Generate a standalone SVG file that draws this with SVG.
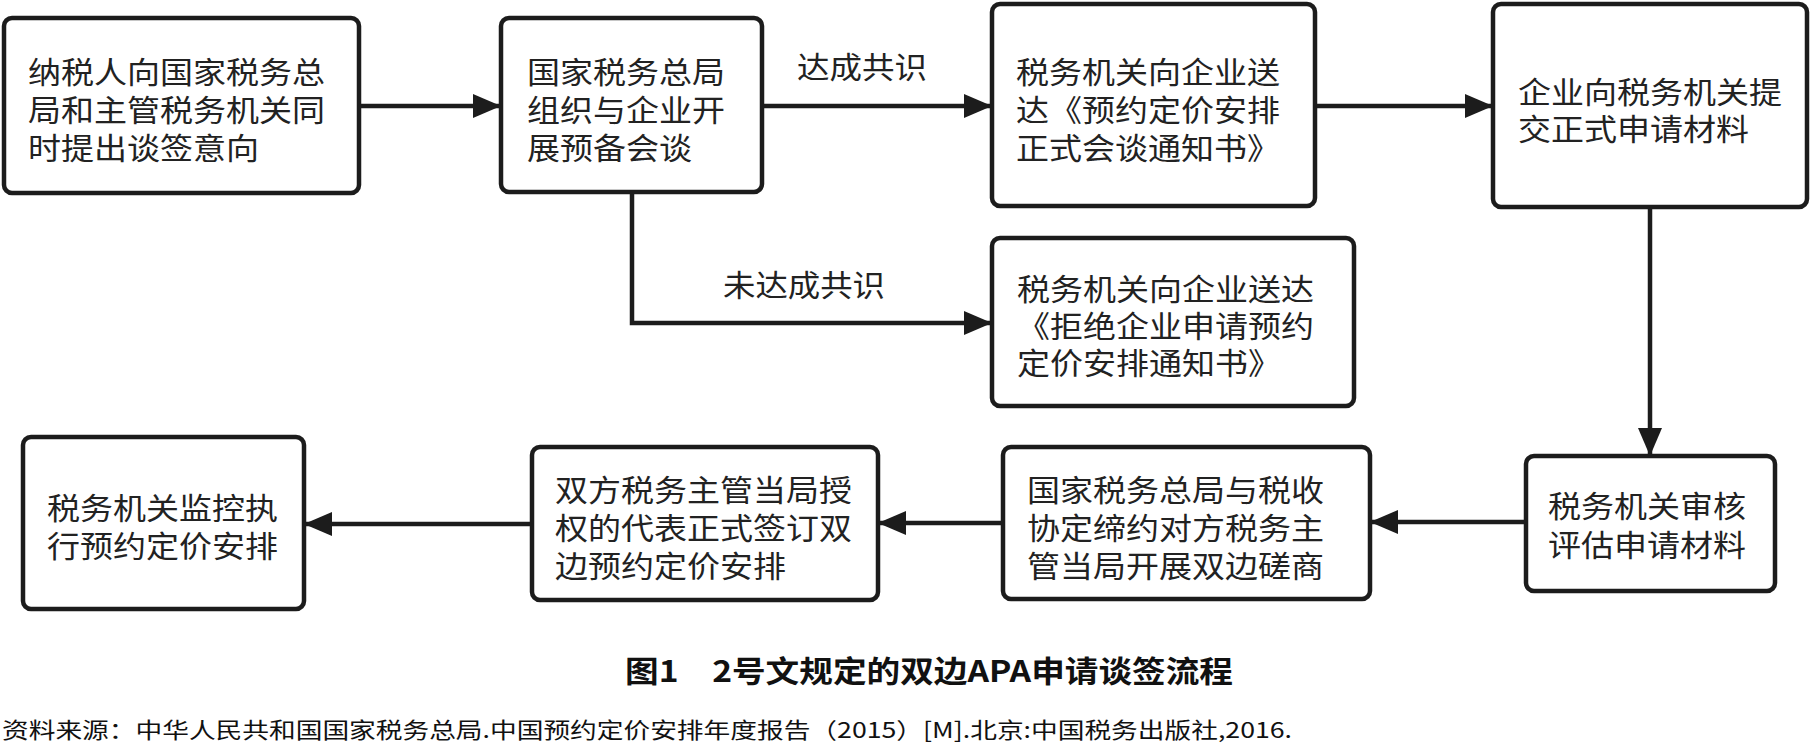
<svg xmlns="http://www.w3.org/2000/svg" width="1816" height="746" viewBox="0 0 1816 746">
<style>
  .box{fill:#ffffff;stroke:#1c1c1c;stroke-width:4.5;}
  .t{font-family:"Liberation Sans","Noto Sans CJK SC",sans-serif;font-size:30px;fill:#222222;dominant-baseline:central;}
  .lbl{font-family:"Liberation Sans","Noto Sans CJK SC",sans-serif;font-size:30px;fill:#222222;dominant-baseline:central;}
  .conn{fill:none;stroke:#1c1c1c;stroke-width:4.5;}
  .cap{font-family:"Noto Sans CJK SC","Noto Sans",sans-serif;font-size:30px;font-weight:bold;fill:#111111;dominant-baseline:central;}
  .src{font-family:"Noto Sans CJK SC","Noto Sans",sans-serif;font-size:22px;fill:#111111;dominant-baseline:central;}
</style>
<defs>
  <marker id="ah" markerUnits="userSpaceOnUse" markerWidth="30" markerHeight="26" refX="28" refY="12" orient="auto">
    <path d="M0,0 L28,12 L0,24 z" fill="#1c1c1c"/>
  </marker>
</defs>
<rect width="1816" height="746" fill="#ffffff"/>

<g id="connectors">
  <path class="conn" d="M359,106 H501" marker-end="url(#ah)"/>
  <path class="conn" d="M762,106 H992" marker-end="url(#ah)"/>
  <path class="conn" d="M1315,106 H1493" marker-end="url(#ah)"/>
  <path class="conn" d="M632,192 V323 H992" marker-end="url(#ah)"/>
  <path class="conn" d="M1650,207 V456" marker-end="url(#ah)"/>
  <path class="conn" d="M1526,522 H1370" marker-end="url(#ah)"/>
  <path class="conn" d="M1003,523 H878" marker-end="url(#ah)"/>
  <path class="conn" d="M532,524 H304" marker-end="url(#ah)"/>
  <text class="lbl" x="797" y="67" textLength="130" lengthAdjust="spacingAndGlyphs">达成共识</text>
  <text class="lbl" x="723" y="285" textLength="162" lengthAdjust="spacingAndGlyphs">未达成共识</text>
</g>

<g id="n1">
  <rect class="box" x="4" y="18" width="355" height="175" rx="8"/>
  <text class="t"><tspan x="28" y="72" textLength="297" lengthAdjust="spacingAndGlyphs">纳税人向国家税务总</tspan><tspan x="28" y="110" textLength="297" lengthAdjust="spacingAndGlyphs">局和主管税务机关同</tspan><tspan x="28" y="148" textLength="231" lengthAdjust="spacingAndGlyphs">时提出谈签意向</tspan></text>
</g>

<g id="n2">
  <rect class="box" x="501" y="18" width="261" height="174" rx="8"/>
  <text class="t"><tspan x="527" y="72" textLength="198" lengthAdjust="spacingAndGlyphs">国家税务总局</tspan><tspan x="527" y="110" textLength="198" lengthAdjust="spacingAndGlyphs">组织与企业开</tspan><tspan x="527" y="148" textLength="165" lengthAdjust="spacingAndGlyphs">展预备会谈</tspan></text>
</g>

<g id="n3">
  <rect class="box" x="992" y="4" width="323" height="202" rx="8"/>
  <text class="t"><tspan x="1016" y="72" textLength="264" lengthAdjust="spacingAndGlyphs">税务机关向企业送</tspan><tspan x="1016" y="110" textLength="264" lengthAdjust="spacingAndGlyphs">达《预约定价安排</tspan><tspan x="1016" y="148" textLength="264" lengthAdjust="spacingAndGlyphs">正式会谈通知书》</tspan></text>
</g>

<g id="n4">
  <rect class="box" x="1493" y="4" width="314" height="203" rx="8"/>
  <text class="t"><tspan x="1518" y="92" textLength="264" lengthAdjust="spacingAndGlyphs">企业向税务机关提</tspan><tspan x="1518" y="129" textLength="231" lengthAdjust="spacingAndGlyphs">交正式申请材料</tspan></text>
</g>

<g id="n5">
  <rect class="box" x="992" y="238" width="362" height="168" rx="8"/>
  <text class="t"><tspan x="1017" y="289" textLength="297" lengthAdjust="spacingAndGlyphs">税务机关向企业送达</tspan><tspan x="1017" y="326" textLength="297" lengthAdjust="spacingAndGlyphs">《拒绝企业申请预约</tspan><tspan x="1017" y="363" textLength="264" lengthAdjust="spacingAndGlyphs">定价安排通知书》</tspan></text>
</g>

<g id="n6">
  <rect class="box" x="1526" y="456" width="249" height="135" rx="8"/>
  <text class="t"><tspan x="1548" y="506" textLength="198" lengthAdjust="spacingAndGlyphs">税务机关审核</tspan><tspan x="1548" y="545" textLength="198" lengthAdjust="spacingAndGlyphs">评估申请材料</tspan></text>
</g>

<g id="n7">
  <rect class="box" x="1003" y="447" width="367" height="152" rx="8"/>
  <text class="t"><tspan x="1027" y="490" textLength="297" lengthAdjust="spacingAndGlyphs">国家税务总局与税收</tspan><tspan x="1027" y="528" textLength="297" lengthAdjust="spacingAndGlyphs">协定缔约对方税务主</tspan><tspan x="1027" y="566" textLength="297" lengthAdjust="spacingAndGlyphs">管当局开展双边磋商</tspan></text>
</g>

<g id="n8">
  <rect class="box" x="532" y="447" width="346" height="153" rx="8"/>
  <text class="t"><tspan x="555" y="490" textLength="297" lengthAdjust="spacingAndGlyphs">双方税务主管当局授</tspan><tspan x="555" y="528" textLength="297" lengthAdjust="spacingAndGlyphs">权的代表正式签订双</tspan><tspan x="555" y="566" textLength="231" lengthAdjust="spacingAndGlyphs">边预约定价安排</tspan></text>
</g>

<g id="n9">
  <rect class="box" x="23" y="437" width="281" height="172" rx="8"/>
  <text class="t"><tspan x="47" y="508" textLength="231" lengthAdjust="spacingAndGlyphs">税务机关监控执</tspan><tspan x="47" y="546" textLength="231" lengthAdjust="spacingAndGlyphs">行预约定价安排</tspan></text>
</g>

<text class="cap" x="625" y="669" textLength="608" lengthAdjust="spacingAndGlyphs">图1　2号文规定的双边APA申请谈签流程</text>
<text class="src" x="2" y="728" textLength="1290" lengthAdjust="spacingAndGlyphs">资料来源：中华人民共和国国家税务总局.中国预约定价安排年度报告（2015）[M].北京:中国税务出版社,2016.</text>
</svg>
